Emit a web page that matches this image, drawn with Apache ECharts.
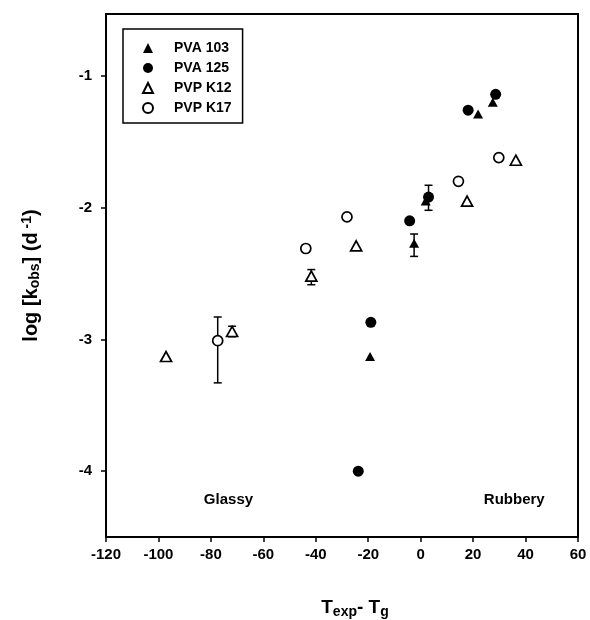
<!DOCTYPE html>
<html>
<head>
<meta charset="utf-8">
<script src="https://cdn.jsdelivr.net/npm/echarts@6/dist/echarts.min.js"></script>
<style>
  html, body { margin: 0; padding: 0; background: #fff; }
  #chart { width: 590px; height: 620px; }
</style>
</head>
<body>
<div id="chart"></div>
<script>
// Observed degradation rate vs. distance from the glass transition
const xTicks = [-120, -100, -80, -60, -40, -20, 0, 20, 40, 60];
const yTicks = [-4, -3, -2, -1];

// [T_exp - T_g, log k_obs]
const pva103 = [[-19.3, -3.13], [-2.5, -2.27], [1.9, -1.95], [21.9, -1.29], [27.5, -1.20]];
const pva125 = [[-23.8, -4.00], [-19.0, -2.87], [-4.2, -2.10], [3.0, -1.92], [18.1, -1.26], [28.6, -1.14]];
const pvpK12 = [[-97.1, -3.13], [-71.9, -2.94], [-41.7, -2.52], [-24.6, -2.29], [17.7, -1.95], [36.3, -1.64]];
const pvpK17 = [[-77.4, -3.01], [-43.8, -2.31], [-28.1, -2.07], [14.4, -1.80], [29.8, -1.62]];

// [x, lower, upper]
const errorBars = [
  [-77.4, -3.33, -2.83],
  [-71.9, -2.98, -2.90],
  [-41.7, -2.585, -2.47],
  [-2.5, -2.37, -2.20],
  [3.0, -2.02, -1.83]
];

// region annotations [text, x, y]
const regionLabels = [['Glassy', -73.3, -4.22], ['Rubbery', 35.7, -4.22]];

const FONT = 'Liberation Sans, Arial, Helvetica, sans-serif';
const INK = '#000';

const chart = echarts.init(document.getElementById('chart'), null, { renderer: 'canvas' });

function markerSeries(name, data, symbol, filled, size) {
  return {
    name: name,
    type: 'scatter',
    data: data,
    symbol: symbol,
    symbolSize: size,
    z: 3,
    itemStyle: filled
      ? { color: INK, borderWidth: 0, opacity: 1 }
      : { color: '#fff', borderColor: INK, borderWidth: 1.7, opacity: 1 },
    emphasis: { disabled: true }
  };
}

const subStyle = { fontFamily: FONT, fontWeight: 'bold', fontSize: 14, color: INK, lineHeight: 14, verticalAlign: 'bottom', padding: [8, 0, 0, 0] };
const supStyle = { fontFamily: FONT, fontWeight: 'bold', fontSize: 14, color: INK, lineHeight: 14, verticalAlign: 'top', padding: [0, 0, 8, 0] };

const option = {
  animation: false,
  backgroundColor: '#fff',
  grid: {
    left: 106, right: 12, top: 14, bottom: 83,
    outerBoundsMode: 'none',
    containLabel: false,
    show: true, borderColor: INK, borderWidth: 2, backgroundColor: 'transparent'
  },
  legend: {
    data: ['PVA 103', 'PVA 125', 'PVP K12', 'PVP K17'],
    orient: 'vertical',
    left: 123, top: 29,
    padding: [12, 11, 8, 19],
    itemWidth: 10, itemHeight: 10, itemGap: 6,
    borderColor: INK, borderWidth: 1.5,
    backgroundColor: '#fff',
    selectedMode: false,
    textStyle: {
      fontFamily: FONT, fontWeight: 'bold', fontSize: 14, color: INK,
      lineHeight: 14, padding: [0, 0, 0, 16]
    }
  },
  xAxis: {
    type: 'value',
    min: xTicks[0], max: xTicks[xTicks.length - 1], interval: 20,
    axisLine: { show: true, onZero: false, lineStyle: { color: INK, width: 2 } },
    axisTick: { show: true, length: 5, lineStyle: { color: INK, width: 1.5 } },
    splitLine: { show: false },
    axisLabel: { fontFamily: FONT, fontWeight: 'bold', fontSize: 15, color: INK, margin: 10 },
    name: 'T{sub|exp}- T{sub|g}',
    nameLocation: 'middle',
    nameGap: 60,
    nameTextStyle: {
      fontFamily: FONT, fontWeight: 'bold', fontSize: 19, color: INK,
      lineHeight: 22, padding: [0, 0, 0, 26],
      rich: { sub: subStyle }
    }
  },
  yAxis: {
    type: 'value',
    min: -4.5, max: -0.53,
    axisLine: { show: true, onZero: false, lineStyle: { color: INK, width: 2 } },
    axisTick: { show: true, length: 5, customValues: yTicks, lineStyle: { color: INK, width: 1.5 } },
    splitLine: { show: false },
    axisLabel: { customValues: yTicks, fontFamily: FONT, fontWeight: 'bold', fontSize: 15, color: INK, margin: 14 },
    name: 'log [k{sub|obs}] (d{sup| -1})',
    nameLocation: 'middle',
    nameRotate: 90,
    nameGap: 64,
    nameTextStyle: {
      fontFamily: FONT, fontWeight: 'bold', fontSize: 20, color: INK,
      lineHeight: 22,
      rich: { sub: subStyle, sup: supStyle }
    }
  },
  series: [
    {
      name: 'error',
      type: 'custom',
      data: errorBars,
      encode: { x: 0, y: [1, 2] },
      z: 2,
      silent: true,
      renderItem: function (params, api) {
        const x = api.value(0);
        const lo = api.coord([x, api.value(1)]);
        const hi = api.coord([x, api.value(2)]);
        const w = 4;
        const style = { stroke: INK, lineWidth: 1.5, fill: null };
        return {
          type: 'group',
          children: [
            { type: 'line', shape: { x1: lo[0], y1: lo[1], x2: hi[0], y2: hi[1] }, style: style },
            { type: 'line', shape: { x1: lo[0] - w, y1: lo[1], x2: lo[0] + w, y2: lo[1] }, style: style },
            { type: 'line', shape: { x1: hi[0] - w, y1: hi[1], x2: hi[0] + w, y2: hi[1] }, style: style }
          ]
        };
      }
    },
    markerSeries('PVP K12', pvpK12, 'triangle', false, [11, 10]),
    markerSeries('PVP K17', pvpK17, 'circle', false, 10),
    markerSeries('PVA 103', pva103, 'triangle', true, [10, 9]),
    markerSeries('PVA 125', pva125, 'circle', true, 11),
    {
      name: 'regions',
      type: 'scatter',
      symbolSize: 0,
      silent: true,
      itemStyle: { opacity: 1, color: INK },
      data: regionLabels.map(function (r) { return { name: r[0], value: [r[1], r[2]] }; }),
      label: {
        show: true, position: 'inside', formatter: '{b}',
        fontFamily: FONT, fontWeight: 'bold', fontSize: 15, color: INK, opacity: 1
      }
    }
  ]
};

chart.setOption(option);
</script>
</body>
</html>
